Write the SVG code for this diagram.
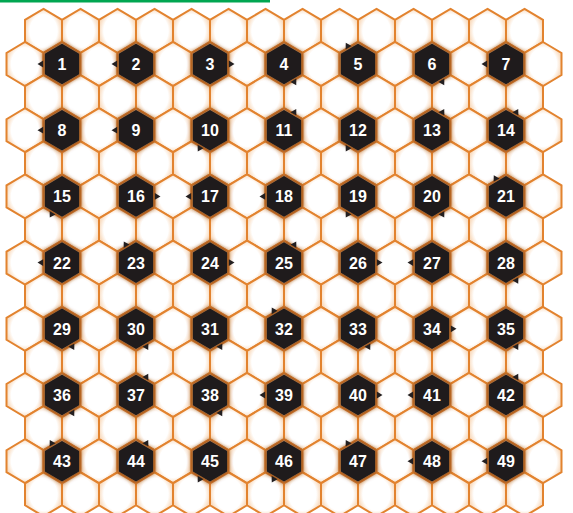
<svg xmlns="http://www.w3.org/2000/svg" xmlns:xlink="http://www.w3.org/1999/xlink" width="573" height="513" viewBox="0 0 573 513">
<style>
.grid{fill:url(#cg);stroke:#e2832f;stroke-width:2}
.glow{fill:#8a4716;filter:url(#blur)}
.dark{fill:#1f1b1c}
.tri{fill:#231f20}
.num{font-family:"Liberation Sans",Arial,sans-serif;font-weight:bold;font-size:16px;fill:#ffffff;text-anchor:middle}
</style>
<defs>
<radialGradient id="cg" cx="50%" cy="50%" r="50%">
<stop offset="0.74" stop-color="#ffffff"/>
<stop offset="1" stop-color="#f9dcc0"/>
</radialGradient>
<filter id="blur" x="-30%" y="-30%" width="160%" height="160%"><feGaussianBlur stdDeviation="2"/></filter>
<polygon id="hex" points="0,-22 18.5,-11 18.5,11 0,22 -18.5,11 -18.5,-11"/>
<polygon id="dk" points="0,-20.3 17.1,-10.2 17.1,10.2 0,20.3 -17.1,10.2 -17.1,-10.2"/>
<polygon id="tri" points="-24.5,0 -18.8,-3.4 -18.8,3.4"/>
<g id="rowE">
<use href="#hex" x="43.5"/><use href="#hex" x="80.5"/><use href="#hex" x="117.5"/><use href="#hex" x="154.5"/><use href="#hex" x="191.5"/><use href="#hex" x="228.5"/><use href="#hex" x="265.5"/><use href="#hex" x="302.5"/><use href="#hex" x="339.5"/><use href="#hex" x="376.5"/><use href="#hex" x="413.5"/><use href="#hex" x="450.5"/><use href="#hex" x="487.5"/><use href="#hex" x="524.5"/>
</g>
<g id="rowO">
<use href="#hex" x="25"/><use href="#hex" x="62"/><use href="#hex" x="99"/><use href="#hex" x="136"/><use href="#hex" x="173"/><use href="#hex" x="210"/><use href="#hex" x="247"/><use href="#hex" x="284"/><use href="#hex" x="321"/><use href="#hex" x="358"/><use href="#hex" x="395"/><use href="#hex" x="432"/><use href="#hex" x="469"/><use href="#hex" x="506"/><use href="#hex" x="543"/>
</g>
<g id="node">
<use href="#hex" class="glow"/>
<use href="#dk" class="dark"/>
</g>
</defs>
<rect width="573" height="513" fill="#ffffff"/>
<rect x="0" y="0" width="270" height="2.5" fill="#00a651"/>
<g id="grid" class="grid">
<use href="#rowE" y="30.9"/>
<use href="#rowO" y="64"/>
<use href="#rowE" y="97.1"/>
<use href="#rowO" y="130.2"/>
<use href="#rowE" y="163.3"/>
<use href="#rowO" y="196.4"/>
<use href="#rowE" y="229.5"/>
<use href="#rowO" y="262.6"/>
<use href="#rowE" y="295.7"/>
<use href="#rowO" y="328.8"/>
<use href="#rowE" y="361.9"/>
<use href="#rowO" y="395"/>
<use href="#rowE" y="428.1"/>
<use href="#rowO" y="461.2"/>
<use href="#rowE" y="494.3"/>
</g>
<g id="connectors"></g>
<g id="nodes">
<g id="n1" transform="translate(62,64)"><use href="#node"/><text class="num" y="6">1</text><use href="#tri" class="tri" transform="rotate(0)"/></g>
<g id="n2" transform="translate(136,64)"><use href="#node"/><text class="num" y="6">2</text><use href="#tri" class="tri" transform="rotate(0)"/></g>
<g id="n3" transform="translate(210,64)"><use href="#node"/><text class="num" y="6">3</text><use href="#tri" class="tri" transform="rotate(180)"/></g>
<g id="n4" transform="translate(284,64)"><use href="#node"/><text class="num" y="6">4</text><use href="#tri" class="tri" transform="rotate(-120)"/></g>
<g id="n5" transform="translate(358,64)"><use href="#node"/><text class="num" y="6">5</text><use href="#tri" class="tri" transform="rotate(60)"/></g>
<g id="n6" transform="translate(432,64)"><use href="#node"/><text class="num" y="6">6</text><use href="#tri" class="tri" transform="rotate(-120)"/></g>
<g id="n7" transform="translate(506,64)"><use href="#node"/><text class="num" y="6">7</text><use href="#tri" class="tri" transform="rotate(0)"/></g>

<g id="n8" transform="translate(62,130.2)"><use href="#node"/><text class="num" y="6">8</text><use href="#tri" class="tri" transform="rotate(0)"/></g>
<g id="n9" transform="translate(136,130.2)"><use href="#node"/><text class="num" y="6">9</text><use href="#tri" class="tri" transform="rotate(0)"/></g>
<g id="n10" transform="translate(210,130.2)"><use href="#node"/><text class="num" y="6">10</text><use href="#tri" class="tri" transform="rotate(-60)"/></g>
<g id="n11" transform="translate(284,130.2)"><use href="#node"/><text class="num" y="6">11</text><use href="#tri" class="tri" transform="rotate(120)"/></g>
<g id="n12" transform="translate(358,130.2)"><use href="#node"/><text class="num" y="6">12</text><use href="#tri" class="tri" transform="rotate(-60)"/></g>
<g id="n13" transform="translate(432,130.2)"><use href="#node"/><text class="num" y="6">13</text><use href="#tri" class="tri" transform="rotate(120)"/></g>
<g id="n14" transform="translate(506,130.2)"><use href="#node"/><text class="num" y="6">14</text><use href="#tri" class="tri" transform="rotate(120)"/></g>

<g id="n15" transform="translate(62,196.4)"><use href="#node"/><text class="num" y="6">15</text><use href="#tri" class="tri" transform="rotate(-60)"/></g>
<g id="n16" transform="translate(136,196.4)"><use href="#node"/><text class="num" y="6">16</text><use href="#tri" class="tri" transform="rotate(180)"/></g>
<g id="n17" transform="translate(210,196.4)"><use href="#node"/><text class="num" y="6">17</text><use href="#tri" class="tri" transform="rotate(0)"/></g>
<g id="n18" transform="translate(284,196.4)"><use href="#node"/><text class="num" y="6">18</text><use href="#tri" class="tri" transform="rotate(0)"/></g>
<g id="n19" transform="translate(358,196.4)"><use href="#node"/><text class="num" y="6">19</text><use href="#tri" class="tri" transform="rotate(-60)"/></g>
<g id="n20" transform="translate(432,196.4)"><use href="#node"/><text class="num" y="6">20</text><use href="#tri" class="tri" transform="rotate(-120)"/></g>
<g id="n21" transform="translate(506,196.4)"><use href="#node"/><text class="num" y="6">21</text><use href="#tri" class="tri" transform="rotate(60)"/></g>

<g id="n22" transform="translate(62,262.6)"><use href="#node"/><text class="num" y="6">22</text><use href="#tri" class="tri" transform="rotate(0)"/></g>
<g id="n23" transform="translate(136,262.6)"><use href="#node"/><text class="num" y="6">23</text><use href="#tri" class="tri" transform="rotate(60)"/></g>
<g id="n24" transform="translate(210,262.6)"><use href="#node"/><text class="num" y="6">24</text><use href="#tri" class="tri" transform="rotate(180)"/></g>
<g id="n25" transform="translate(284,262.6)"><use href="#node"/><text class="num" y="6">25</text><use href="#tri" class="tri" transform="rotate(120)"/></g>
<g id="n26" transform="translate(358,262.6)"><use href="#node"/><text class="num" y="6">26</text><use href="#tri" class="tri" transform="rotate(180)"/></g>
<g id="n27" transform="translate(432,262.6)"><use href="#node"/><text class="num" y="6">27</text><use href="#tri" class="tri" transform="rotate(0)"/></g>
<g id="n28" transform="translate(506,262.6)"><use href="#node"/><text class="num" y="6">28</text><use href="#tri" class="tri" transform="rotate(-120)"/></g>

<g id="n29" transform="translate(62,328.8)"><use href="#node"/><text class="num" y="6">29</text><use href="#tri" class="tri" transform="rotate(-120)"/></g>
<g id="n30" transform="translate(136,328.8)"><use href="#node"/><text class="num" y="6">30</text><use href="#tri" class="tri" transform="rotate(-120)"/></g>
<g id="n31" transform="translate(210,328.8)"><use href="#node"/><text class="num" y="6">31</text><use href="#tri" class="tri" transform="rotate(-120)"/></g>
<g id="n32" transform="translate(284,328.8)"><use href="#node"/><text class="num" y="6">32</text><use href="#tri" class="tri" transform="rotate(60)"/></g>
<g id="n33" transform="translate(358,328.8)"><use href="#node"/><text class="num" y="6">33</text><use href="#tri" class="tri" transform="rotate(-120)"/></g>
<g id="n34" transform="translate(432,328.8)"><use href="#node"/><text class="num" y="6">34</text><use href="#tri" class="tri" transform="rotate(180)"/></g>
<g id="n35" transform="translate(506,328.8)"><use href="#node"/><text class="num" y="6">35</text><use href="#tri" class="tri" transform="rotate(-120)"/></g>

<g id="n36" transform="translate(62,395)"><use href="#node"/><text class="num" y="6">36</text><use href="#tri" class="tri" transform="rotate(-120)"/></g>
<g id="n37" transform="translate(136,395)"><use href="#node"/><text class="num" y="6">37</text><use href="#tri" class="tri" transform="rotate(120)"/></g>
<g id="n38" transform="translate(210,395)"><use href="#node"/><text class="num" y="6">38</text><use href="#tri" class="tri" transform="rotate(-120)"/></g>
<g id="n39" transform="translate(284,395)"><use href="#node"/><text class="num" y="6">39</text><use href="#tri" class="tri" transform="rotate(0)"/></g>
<g id="n40" transform="translate(358,395)"><use href="#node"/><text class="num" y="6">40</text><use href="#tri" class="tri" transform="rotate(180)"/></g>
<g id="n41" transform="translate(432,395)"><use href="#node"/><text class="num" y="6">41</text><use href="#tri" class="tri" transform="rotate(0)"/></g>
<g id="n42" transform="translate(506,395)"><use href="#node"/><text class="num" y="6">42</text><use href="#tri" class="tri" transform="rotate(120)"/></g>

<g id="n43" transform="translate(62,461.2)"><use href="#node"/><text class="num" y="6">43</text><use href="#tri" class="tri" transform="rotate(60)"/></g>
<g id="n44" transform="translate(136,461.2)"><use href="#node"/><text class="num" y="6">44</text><use href="#tri" class="tri" transform="rotate(120)"/></g>
<g id="n45" transform="translate(210,461.2)"><use href="#node"/><text class="num" y="6">45</text><use href="#tri" class="tri" transform="rotate(-60)"/></g>
<g id="n46" transform="translate(284,461.2)"><use href="#node"/><text class="num" y="6">46</text><use href="#tri" class="tri" transform="rotate(-60)"/></g>
<g id="n47" transform="translate(358,461.2)"><use href="#node"/><text class="num" y="6">47</text><use href="#tri" class="tri" transform="rotate(60)"/></g>
<g id="n48" transform="translate(432,461.2)"><use href="#node"/><text class="num" y="6">48</text><use href="#tri" class="tri" transform="rotate(0)"/></g>
<g id="n49" transform="translate(506,461.2)"><use href="#node"/><text class="num" y="6">49</text><use href="#tri" class="tri" transform="rotate(0)"/></g>
</g>
</svg>
